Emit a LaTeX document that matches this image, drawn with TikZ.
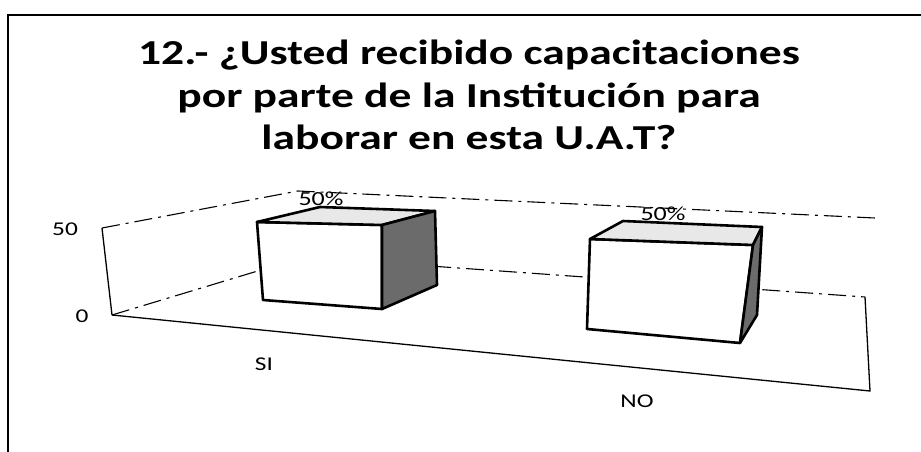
\documentclass[tikz,border=0pt]{standalone}
\usepackage{fontspec}
\setmainfont[FakeStretch=1.3]{Carlito}
\begin{document}
\begin{tikzpicture}[x=1pt,y=-1pt,
  framepen/.style={line width=2pt},
  wire/.style={line width=1.3pt},
  wiredash/.style={line width=1.1pt, dash pattern=on 18pt off 6pt on 3pt off 6pt},
  barline/.style={line width=2.6pt, line join=round},
  topface/.style={fill=black!9},
  sideface/.style={fill=black!58},
  lbl/.style={font=\fontsize{19.5}{22}\selectfont, inner sep=0pt},
  pct/.style={font=\fontsize{20}{22}\selectfont, inner sep=0pt},
  titlestyle/.style={font=\fontsize{35}{42.5}\selectfont\bfseries, align=center, inner sep=0pt}]
\useasboundingbox (0,0) rectangle (921,452);
\fill[white] (0,0) rectangle (921,452);
% outer frame
\draw[framepen] (8,452) -- (8,15) -- (921,15);
% title
\node[titlestyle] (title) at (469,95) {12.- ¿Usted recibido capacitaciones\\por parte de la Institución para\\laborar en esta U.A.T?};
% chart wireframe
\draw[wire] (102,228) -- (112,315);
\draw[wiredash] (102,228) -- (298,191) -- (875,218);
\draw[wiredash] (112,315) -- (304,257) -- (865,297);
\draw[wire] (112,315) -- (870,391) -- (865,297);
% SI bar
\filldraw[barline, fill=white] (257,222) -- (382,225) -- (382,309) -- (263,300) -- cycle;
\filldraw[barline, topface] (257,222) -- (320,207) -- (435,211) -- (382,225) -- cycle;
\filldraw[barline, sideface] (382,225) -- (435,211) -- (437,285) -- (382,309) -- cycle;
% NO bar
\filldraw[barline, fill=white] (590,239) -- (753,245) -- (740,343) -- (587,329) -- cycle;
\filldraw[barline, topface] (590,239) -- (623,221) -- (762,227) -- (753,245) -- cycle;
\filldraw[barline, sideface] (753,245) -- (762,227) -- (757,315) -- (740,343) -- cycle;
% labels
\node[pct] (pctsi) at (321,199) {50\%};
\node[pct] (pctno) at (663,214) {50\%};
\node[lbl] (y50) at (65,229) {50};
\node[lbl] (y0) at (82,316) {0};
\node[lbl] (xsi) at (264,364) {SI};
\node[lbl] (xno) at (637,401) {NO};
\end{tikzpicture}
\end{document}
